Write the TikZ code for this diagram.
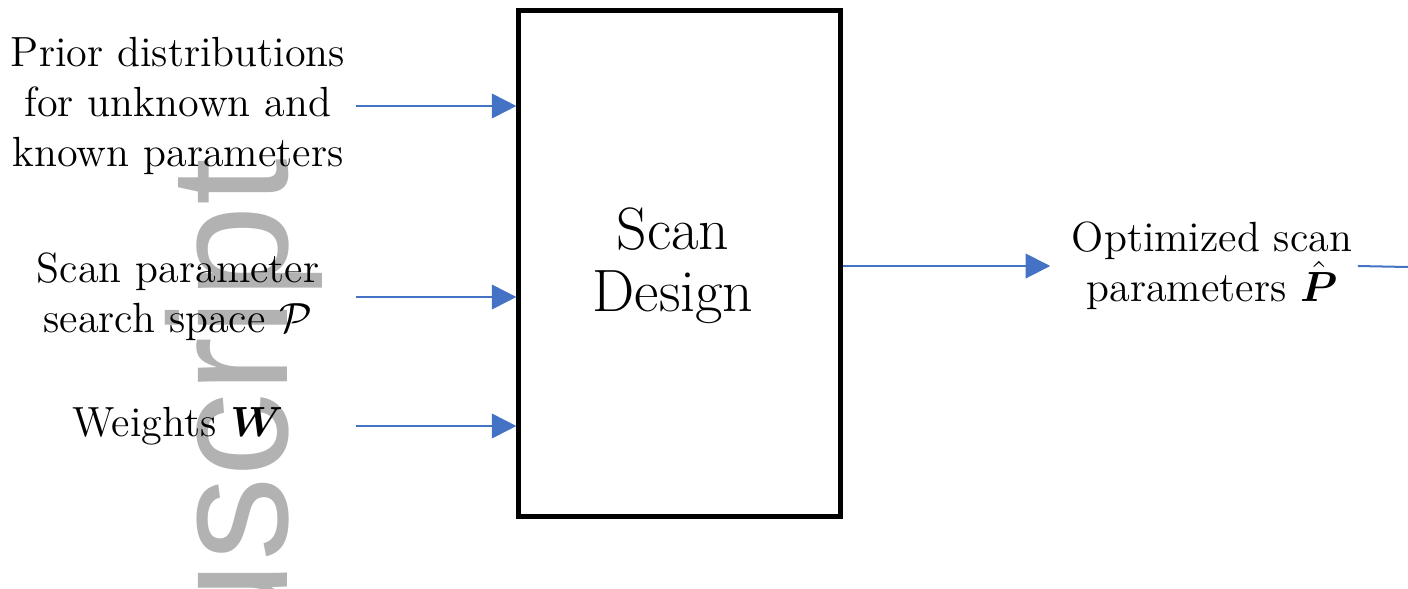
\documentclass[tikz,border=0pt]{standalone}
\usepackage{amsmath}
\usepackage{fontspec}
\newfontfamily\markfont{Liberation Sans}
\usetikzlibrary{arrows.meta}
\definecolor{flowblue}{RGB}{68,114,196}
\definecolor{markgray}{RGB}{178,178,178}
\begin{document}
\begin{tikzpicture}[x=0.1mm, y=-0.1mm,
    flow/.style={draw=flowblue, line width=0.57pt, -{Triangle[length=7pt,width=7pt]}},
    flowline/.style={draw=flowblue, line width=0.57pt},
    input/.style={text width=34.4mm, align=center, inner xsep=0.5mm, inner ysep=0pt,
        font=\fontsize{12}{14.2}\selectfont},
    block/.style={draw, line width=1.2pt, minimum width=32.2mm, minimum height=50.6mm, inner sep=0pt}]
    \useasboundingbox (0,0) rectangle (1408,588);

    % watermark behind everything
    \begin{scope}
        \clip (0,0) rectangle (1408,588);
        \node[rotate=90, anchor=base east, inner sep=0pt, text=markgray,
            font=\markfont\fontsize{48}{48}\selectfont] (mark) at (287,158) {Manuscript};
    \end{scope}

    \node[block] (design) at (679.5,263.5) {};
    \node[align=center, font=\fontsize{17}{17.6}\selectfont] (designtext) at (673,266) {Scan\\Design};

    \node[input] (prior) at (178,106) {Prior distributions\\for unknown and\\known parameters};
    \node[input] (space) at (178,297) {Scan parameter\\search space $\mathcal{P}$};
    \node[input] (weights) at (178,426) {Weights $\boldsymbol{W}$};

    \node[align=center, inner sep=0pt, font=\fontsize{12}{14.2}\selectfont] (optimized) at (1212,266)
        {Optimized scan\\parameters $\hat{\boldsymbol{P}}$};
    \coordinate (exit) at (1408,267);

    \draw[flow] (prior.east) -- (prior.east -| design.west);
    \draw[flow] (space.east) -- (space.east -| design.west);
    \draw[flow] (weights.east) -- (weights.east -| design.west);
    \draw[flow] (design.east |- optimized.west) -- ([xshift=-2.1mm]optimized.west);
    \draw[flowline] ([xshift=0.5mm]optimized.east) -- (exit);
\end{tikzpicture}
\end{document}
